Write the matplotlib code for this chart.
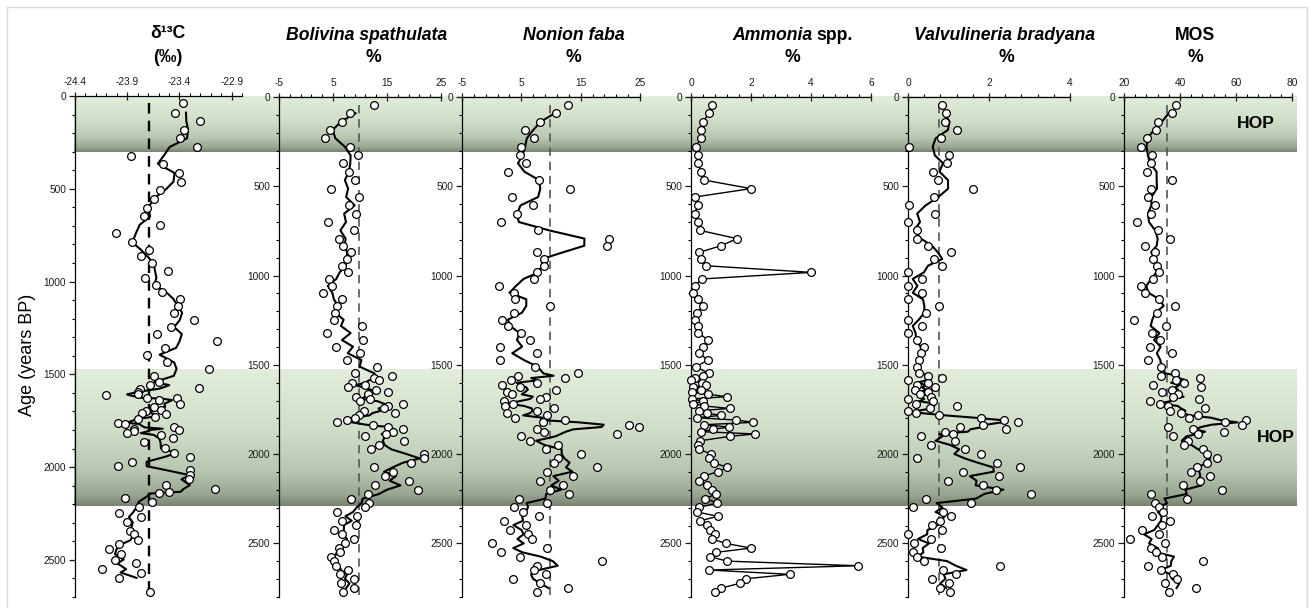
import numpy as np
import pandas as pd
import matplotlib
matplotlib.use('Agg')
import matplotlib.pyplot as plt
from matplotlib.ticker import FixedLocator, FixedFormatter
from matplotlib.colors import LinearSegmentedColormap
from matplotlib.patches import Rectangle

plt.rcParams['font.family'] = ['Liberation Sans', 'DejaVu Sans']
plt.rcParams['axes.unicode_minus'] = False

# --- delta13C record (own sample ages) ---
age_d13c = [40, 90, 135, 181, 228, 275, 322, 365, 415, 462, 507, 553, 602, 649, 694, 740, 789, 828,
            864, 902, 942, 979, 1019, 1057, 1094, 1132, 1168, 1208, 1245, 1283, 1319, 1357, 1394, 1436,
            1470, 1508,
            1542, 1558, 1571, 1578, 1594, 1608, 1614, 1628, 1630, 1639, 1659, 1675, 1693, 1700, 1709,
            1714, 1729, 1741, 1761, 1768, 1786, 1793, 1800, 1808, 1817, 1826, 1845, 1867, 1899, 1923,
            1944, 1971, 1995, 2016, 2043, 2066, 2097, 2119, 2133, 2142, 2164, 2187, 2217, 2246, 2268,
            2298, 2343, 2361, 2394, 2415, 2444, 2469, 2498, 2519, 2550, 2568, 2597, 2672]
d13c = [-23.37, -23.44, -23.20, -23.36, -23.39, -23.23, -23.86, -23.56, -23.40, -23.38, -23.59, -23.64,
        -23.71, -23.74, -23.59, -24.01, -23.85, -23.69, -23.77, -23.66, -23.51, -23.73, -23.62, -23.57,
        -23.39, -23.41, -23.45, -23.26, -23.48, -23.61, -23.04, -23.54, -23.71, -23.52, -23.12, -23.64,
        -23.60, -23.68, -23.21, -23.78, -23.80, -23.80, -24.10, -23.71, -23.42, -23.60, -23.39, -23.64,
        -23.58, -23.72, -23.76, -23.53, -23.63, -23.80, -23.99, -23.92, -23.45, -23.83, -23.40, -23.83,
        -23.90, -23.58, -23.46, -23.74, -23.54, -23.45,
        -23.30, -23.85, -23.99, -23.30, -23.30, -23.31, -23.53, -23.06, -23.50, -23.60, -23.92, -23.66,
        -23.79, -23.98, -23.77, -23.90, -23.87, -23.83, -23.80, -23.98, -24.07, -23.96, -24.02, -23.82,
        -24.14, -23.77, -23.98, -23.68]

# --- foraminifera samples (shared ages, years BP) ---
age = [45, 91, 138, 185, 231, 278, 327, 371, 418, 465, 513, 560, 607, 653, 700, 747, 793, 833, 870,
       907, 945, 982, 1019, 1058, 1096, 1133, 1170, 1208, 1247, 1282, 1322, 1361, 1398, 1435, 1473, 1510,
       1548, 1561, 1574, 1587, 1600, 1613, 1626, 1639, 1652, 1665, 1678, 1691, 1704, 1717, 1730, 1744,
       1757, 1770, 1783, 1796, 1809, 1822, 1835, 1848, 1861, 1874, 1887, 1900, 1925, 1949, 1973, 1999,
       2024, 2048, 2074, 2098, 2123, 2149, 2175, 2199, 2223, 2249, 2274, 2298, 2324, 2348, 2373, 2397,
       2425, 2449, 2475, 2500, 2526, 2550, 2574, 2599, 2625, 2649, 2673, 2698, 2724, 2750, 2774]

bolivina = [12.6, 8.2, 6.7, 4.5, 3.6, 8.2, 9.7, 6.9, 8.0, 9.0, 4.6, 9.8, 7.9, 9.3, 4.0, 8.9, 6.2, 6.9,
            8.4, 7.5, 6.7, 7.8, 4.2, 4.8, 3.1, 6.7, 5.7, 5.4, 5.1, 10.4, 3.9, 10.5, 5.6, 10.0, 7.6, 13.2,
            9.0, 15.9, 12.6, 13.6, 8.6, 11.0, 7.7, 13.0, 15.2, 11.4, 9.3, 11.9, 10.0, 18.0, 15.1, 14.4,
            10.8, 16.4, 9.8, 9.0, 7.6, 5.7, 12.4, 15.1, 18.0, 16.2, 14.8, 11.0, 18.1, 13.6, 12.0, 21.8,
            21.9, 19.5, 12.5, 16.2, 14.7, 19.0, 12.8, 20.7, 11.5, 8.4, 11.6, 10.9, 5.7, 9.5, 6.7, 9.2,
            5.2, 6.6, 8.9, 7.2, 6.2, 6.3, 4.6, 5.1, 5.5, 7.7, 6.3, 8.8, 6.5, 8.9, 6.9]

nonion = [12.8, 10.9, 8.2, 5.7, 7.1, 5.0, 4.8, 5.8, 2.7, 8.0, 13.2, 3.4, 6.9, 4.3, 1.6, 7.8, 19.7, 19.4,
          7.7, 8.9, 8.9, 7.6, 7.2, 1.3, 3.8, 3.9, 9.8, 3.8, 1.7, 2.7, 5.0, 6.4, 1.4, 7.6, 1.4, 7.3,
          14.5, 4.4, 12.4, 3.2, 7.6, 1.8, 4.8, 10.9, 2.6, 3.4, 9.2, 8.2, 2.0, 3.6, 2.2, 10.5, 7.6, 2.5,
          9.4, 4.0, 12.3, 8.6, 23.2, 24.8, 7.6, 8.9, 21.1, 4.9, 6.4, 11.2, 9.1, 15.1,
          11.2, 10.5, 17.7, 9.4, 13.7, 8.1, 12.1, 9.9, 13.1, 4.6, 9.4, 3.7, 5.3, 8.0, 2.1, 5.8, 3.1,
          6.2, 6.8, 0.0, 9.4, 1.5, 4.7, 18.6, 7.6, 7.2, 9.1, 3.6, 8.2, 12.9, 7.6]

ammonia = [0.70, 0.60, 0.40, 0.33, 0.32, 0.16, 0.23, 0.24, 0.33, 0.43, 2.00, 0.13, 0.22, 0.12, 0.24,
           0.30, 1.53, 1.00, 0.27, 0.32, 0.50, 4.01, 0.37, 0.13, 0.08, 0.22, 0.40, 0.20, 0.13, 0.22,
           0.24, 0.58, 0.39, 0.27, 0.57, 0.16,
           0.60, 0.39, 0.12, 0.00, 0.36, 0.49, 0.07, 0.33, 0.04, 0.57, 1.20, 0.04, 0.40, 0.07, 0.43,
           1.29, 0.26, 0.53, 1.00, 0.20, 1.51, 2.06, 0.44, 1.26, 0.74, 0.32, 2.13, 1.31, 0.31, 0.23,
           0.27, 0.67,
           0.60, 0.75, 1.21, 0.89, 0.43, 0.27, 0.53, 0.71, 0.84, 0.48, 0.88, 0.28, 0.21, 0.89, 0.31,
           0.53, 0.62, 0.81, 0.70, 1.16, 2.00, 0.84, 0.64, 1.19, 5.56, 0.60, 3.29, 1.82, 1.62, 1.00, 0.81]

valvulineria = [0.83, 0.94, 0.92, 1.22, 0.81, 0.02, 1.00, 0.97, 0.62, 0.74, 1.60, 0.63, 0.02, 0.66, 0.00,
                0.23, 0.22, 0.50, 1.06, 0.65, 0.83, 0.00, 0.35, 0.00, 0.35, 0.00, 0.76, 0.45, 0.00, 0.35,
                0.00, 0.21, 0.40, 0.32, 0.28, 0.21,
                0.27, 0.49, 0.83, 0.00, 0.49, 0.21, 0.66, 0.18, 0.49, 0.29, 0.58, 0.00, 0.62, 0.19, 1.20,
                0.54, 0.00, 0.19, 0.77, 1.81, 2.37, 2.71, 1.84, 1.28, 2.42, 0.92, 1.10, 0.31, 1.15, 0.58,
                1.41, 1.80,
                0.22, 2.19, 2.76, 1.36, 2.24, 0.98, 1.86, 2.17, 3.04, 0.44, 1.56, 0.12, 0.87, 1.06, 0.78,
                0.60, 0.84, 0.00, 0.58, 0.16, 0.81, 0.12, 0.21, 0.40, 2.28, 0.87, 1.18, 0.59, 1.01, 0.78, 1.03]

mos = [38.4, 37.2, 32.2, 31.4, 28.2, 26.0, 29.9, 29.7, 28.2, 37.0, 29.8, 28.5, 31.0, 29.8, 24.8, 32.2,
       36.4, 27.5, 31.1, 30.4, 31.9, 32.5, 30.3, 26.2, 27.4, 32.5, 38.3, 31.7, 23.5, 35.1, 30.0, 32.8,
       29.4, 37.1, 28.7, 33.1,
       38.2, 33.1, 47.1, 38.5, 41.5, 30.4, 47.5, 37.0, 33.4, 39.4, 37.6, 46.9, 29.2, 32.8, 35.8, 49.0,
       36.4, 40.4, 46.6, 43.3, 63.4, 56.1, 62.1, 35.8, 44.7, 55.7, 46.5, 37.6, 42.8, 41.5, 48.1, 49.7,
       53.1, 49.5, 45.9, 44.0, 50.7, 47.1, 41.0, 54.9, 29.8, 42.6, 31.0, 32.4, 34.0, 29.9, 36.4, 33.4,
       26.5, 32.5, 22.3, 34.8, 29.8, 31.6, 33.7, 48.3, 28.7, 33.1, 37.6, 39.0, 34.6, 45.7, 36.0]

# reference (mean) levels drawn as dashed lines
ref_d13c, ref_bolivina, ref_nonion, ref_valvulineria, ref_mos = -23.69, 9.9, 9.9, 0.77, 35.3

# HOP intervals, years BP (on the 0-2800 age scale)
hop_intervals = [(0, 310), (1523, 2290)]

W, H = 1309, 608
fig = plt.figure(figsize=(W / 100, H / 100), dpi=100)


def rect(x0, x1, y0, y1):
    return [x0 / W, 1 - y1 / H, (x1 - x0) / W, (y1 - y0) / H]


def fx(x):
    return x / W


def fy(y):
    return 1 - y / H


panels = [
    dict(pos=(75, 242, 96), x=d13c, y=age_d13c, xlim=(-24.4, -22.8),
         major=[-24.4, -23.9, -23.4, -22.9], minor=np.arange(-24.4, -22.75, 0.1),
         ymax=2700, ref=ref_d13c, refcol='black', reflw=1.7, dash=(4.5, 3), mode='smooth'),
    dict(pos=(279, 441, 97), x=bolivina, y=age, xlim=(-5, 25),
         major=[-5, 5, 15, 25], minor=np.arange(-5, 25.1, 2),
         ymax=2800, ref=ref_bolivina, refcol='#555555', reflw=1.2, dash=(5, 3.5), mode='smooth'),
    dict(pos=(462, 640, 97), x=nonion, y=age, xlim=(-5, 25),
         major=[-5, 5, 15, 25], minor=np.arange(-5, 25.1, 2),
         ymax=2800, ref=ref_nonion, refcol='#555555', reflw=1.2, dash=(5, 3.5), mode='smooth'),
    dict(pos=(691, 871, 97), x=ammonia, y=age, xlim=(0, 6),
         major=[0, 2, 4, 6], minor=np.arange(0, 6.01, 0.4),
         ymax=2800, ref=None, mode='connect'),
    dict(pos=(908, 1070, 97), x=valvulineria, y=age, xlim=(0, 4),
         major=[0, 2, 4], minor=np.arange(0, 4.01, 0.4),
         ymax=2800, ref=ref_valvulineria, refcol='#555555', reflw=1.2, dash=(5, 3.5), mode='smooth'),
    dict(pos=(1124, 1292, 97), x=mos, y=age, xlim=(20, 80),
         major=[20, 40, 60, 80], minor=np.arange(20, 80.1, 4),
         ymax=2800, ref=ref_mos, refcol='#555555', reflw=1.2, dash=(5, 3.5), mode='smooth'),
]

axes = []
for p in panels:
    x0, x1, y0 = p['pos']
    ax = fig.add_axes(rect(x0, x1, y0, 597))
    ax.set_zorder(2)
    ax.set_facecolor('none')
    xs = np.asarray(p['x'], dtype=float)
    ys = np.asarray(p['y'], dtype=float)
    if p['mode'] == 'smooth':
        trend = pd.Series(xs).rolling(3, center=True).mean()
        ax.plot(trend, ys, color='black', lw=1.5, zorder=2)
    else:
        ax.plot(xs, ys, color='black', lw=1.0, zorder=2)
    if p['ref'] is not None:
        ax.plot([p['ref'], p['ref']], [ys[0], p['ymax']], color=p['refcol'], lw=p['reflw'],
                dashes=p['dash'], zorder=1)
    ax.plot(xs, ys, 'o', ms=5.6, mfc='white', mec='black', mew=0.9, zorder=3, clip_on=False)

    ax.set_xlim(*p['xlim'])
    ax.set_ylim(p['ymax'], 0)
    for side in ('right', 'bottom'):
        ax.spines[side].set_visible(False)
    for side in ('left', 'top'):
        ax.spines[side].set_linewidth(0.9)
    ax.xaxis.set_ticks_position('top')
    ax.xaxis.set_major_locator(FixedLocator(p['major']))
    ax.xaxis.set_major_formatter(FixedFormatter(['%g' % v for v in p['major']]))
    ax.xaxis.set_minor_locator(FixedLocator(p['minor']))
    ax.yaxis.set_major_locator(FixedLocator([0, 500, 1000, 1500, 2000, 2500]))
    ax.yaxis.set_minor_locator(FixedLocator(np.arange(0, p['ymax'] + 1, 100)))
    ax.tick_params(axis='x', which='major', direction='inout', length=6, width=0.9,
                   labelsize=7.3, pad=3.5, colors='#1a1a1a')
    ax.tick_params(axis='x', which='minor', direction='out', length=2.5, width=0.8)
    ax.tick_params(axis='y', which='major', direction='out', length=4.5, width=0.9,
                   labelsize=7.3, pad=2, colors='#1a1a1a')
    ax.tick_params(axis='y', which='minor', direction='out', length=2.5, width=0.8)
    axes.append(ax)

# background with the HOP bands, shaded light at the top to dark at the base
bg = fig.add_axes([0, 0, 1, 1])
bg.set_zorder(0)
band_cmap = LinearSegmentedColormap.from_list(
    'hop', [(0.0, '#e2eedb'), (0.45, '#d0ddc8'), (0.75, '#b8c6b1'), (0.92, '#98a591'), (1.0, '#77836f')])
grad = np.linspace(0, 1, 256).reshape(-1, 1)
ref_ax = axes[1]
for top_age, bot_age in hop_intervals:
    _, ytop = ref_ax.transData.transform((0, top_age))
    _, ybot = ref_ax.transData.transform((0, bot_age))
    bg.imshow(grad, cmap=band_cmap, extent=(74, 1297, H - ybot, H - ytop),
              aspect='auto', origin='upper', interpolation='bilinear')
bg.set_xlim(0, W)
bg.set_ylim(H, 0)
bg.axis('off')

# headers
tkw = dict(ha='center', va='center', fontsize=12.7, fontweight='bold')
fig.text(fx(168), fy(33), 'δ¹³C', **tkw)
fig.text(fx(168), fy(57), '(‰)', **tkw)
fig.text(fx(367), fy(35), 'Bolivina spathulata', style='italic', **tkw)
fig.text(fx(373), fy(58), '%', **tkw)
fig.text(fx(574), fy(35), 'Nonion faba', style='italic', **tkw)
fig.text(fx(573), fy(58), '%', **tkw)
fig.text(fx(812), fy(35), 'Ammonia', style='italic', ha='right', va='center',
         fontsize=12.7, fontweight='bold')
fig.text(fx(816), fy(35), 'spp.', ha='left', va='center', fontsize=12.7, fontweight='bold')
fig.text(fx(792), fy(58), '%', **tkw)
fig.text(fx(1005), fy(35), 'Valvulineria bradyana', style='italic', **tkw)
fig.text(fx(1006), fy(58), '%', **tkw)
fig.text(fx(1195), fy(35), 'MOS', **tkw)
fig.text(fx(1195), fy(58), '%', **tkw)

fig.text(fx(27), fy(355), 'Age (years BP)', rotation=90, ha='center', va='center', fontsize=13)

fig.text(fx(1256), fy(123), 'HOP', ha='center', va='center', fontsize=12.6, fontweight='bold')
fig.text(fx(1276), fy(437), 'HOP', ha='center', va='center', fontsize=12.6, fontweight='bold')

fig.patches.append(Rectangle((fx(7), -0.01), fx(1300), fy(7) + 0.01, transform=fig.transFigure,
                             fill=False, edgecolor='#d9d9d9', lw=1.0))

fig.savefig('out.png', dpi=100)
